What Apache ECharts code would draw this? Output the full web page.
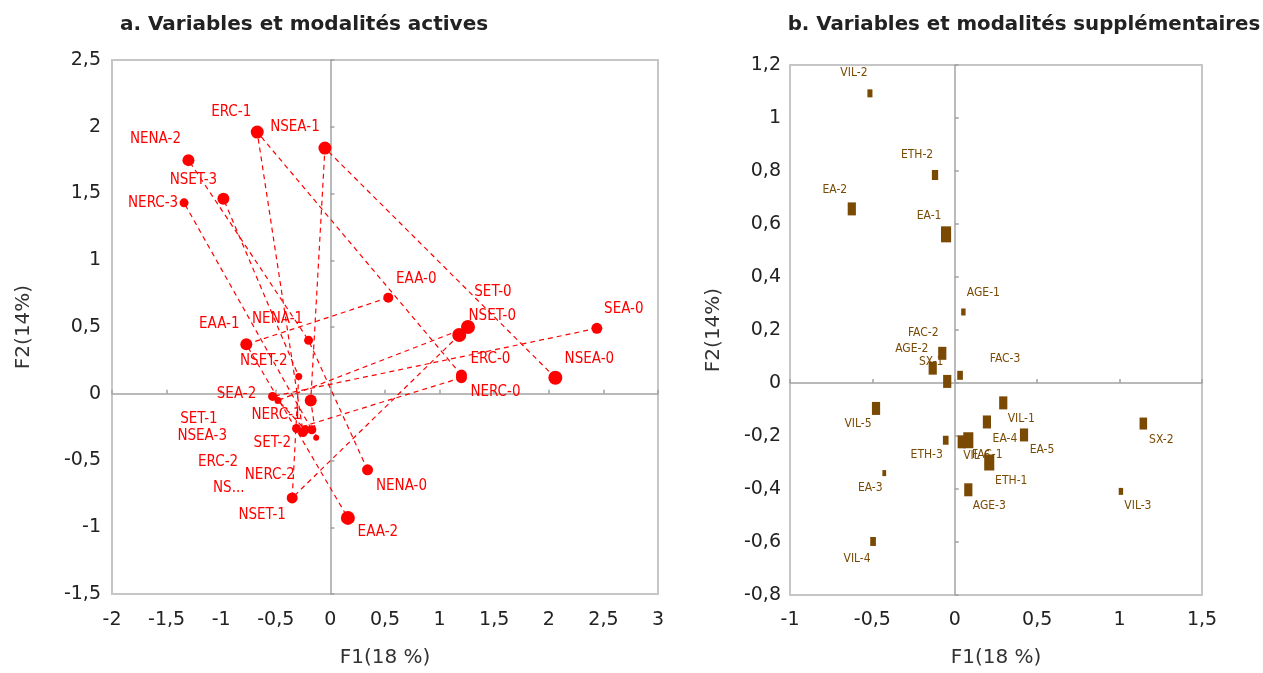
<!DOCTYPE html>
<html>
<head>
<meta charset="utf-8">
<script src="https://cdn.jsdelivr.net/npm/echarts@6/dist/echarts.min.js"></script>
<style>
  html, body { margin: 0; background: #fff; }
  #chart { width: 1263px; height: 673px; }
</style>
</head>
<body>
<div id="chart"></div>
<script>
// a. modalités actives (F1, F2, poids relatif)
const namesA = ['ERC-0', 'ERC-1', 'ERC-2', 'NSEA-0', 'NSEA-1', 'NSEA-2', 'NSEA-3', 'NENA-0', 'NENA-1', 'NENA-2',
  'NSET-0', 'NSET-1', 'NSET-2', 'NSET-3', 'NERC-0', 'NERC-1', 'NERC-2', 'NERC-3', 'EAA-0', 'EAA-1', 'EAA-2',
  'SET-0', 'SET-1', 'SET-2', 'SEA-0', 'SEA-2']
const f1A = [1.20, -0.67, -0.25, 2.06, -0.05, -0.18, -0.13, 0.34, -0.20, -1.30,
  1.18, -0.35, -0.29, -0.98, 1.20, -0.31, -0.17, -1.34, 0.53, -0.77, 0.16,
  1.26, -0.48, -0.23, 2.44, -0.53]
const f2A = [0.14, 1.96, -0.29, 0.12, 1.84, -0.05, -0.33, -0.57, 0.40, 1.75,
  0.44, -0.78, 0.13, 1.46, 0.12, -0.26, -0.27, 1.43, 0.72, 0.37, -0.93,
  0.50, -0.05, -0.27, 0.49, -0.02]
const poidsA = [1.1, 1.3, 0.9, 1.4, 1.3, 1.2, 0.6, 1.1, 0.9, 1.2,
  1.4, 1.1, 0.7, 1.2, 1.1, 0.9, 0.9, 0.9, 1.0, 1.2, 1.4,
  1.4, 0.7, 0.9, 1.1, 0.9]

// b. modalités supplémentaires
const namesB = ['VIL-2', 'ETH-2', 'EA-2', 'EA-1', 'AGE-1', 'FAC-2', 'AGE-2', 'SX-1', 'FAC-3', 'VIL-5', 'VIL-1',
  'EA-4', 'EA-5', 'ETH-3', 'VIL-6', 'FAC-1', 'ETH-1', 'AGE-3', 'EA-3', 'SX-2', 'VIL-3', 'VIL-4']
const f1B = [-0.515, -0.12, -0.625, -0.053, 0.052, -0.076, -0.134, -0.046, 0.032, -0.478, 0.294,
  0.195, 0.42, -0.055, 0.042, 0.082, 0.209, 0.082, -0.428, 1.144, 1.008, -0.496]
const f2B = [1.093, 0.785, 0.657, 0.561, 0.268, 0.112, 0.056, 0.006, 0.029, -0.096, -0.075,
  -0.147, -0.196, -0.216, -0.222, -0.216, -0.30, -0.403, -0.34, -0.153, -0.409, -0.598]
const poidsB = [0.8, 1.0, 1.3, 1.6, 0.7, 1.3, 1.3, 1.3, 0.9, 1.3, 1.3,
  1.3, 1.3, 0.9, 1.3, 1.6, 1.6, 1.3, 0.6, 1.2, 0.7, 0.9]

// placement des étiquettes (décalage en px depuis le centre du point)
const offsetsA = {
  'ERC-0': [29, -16], 'ERC-1': [-26, -20], 'ERC-2': [-85, 30], 'NSEA-0': [34, -19], 'NSEA-1': [-30, -21],
  'NSEA-2': [-82, 88], 'NSEA-3': [-114, -2], 'NENA-0': [34, 16], 'NENA-1': [-31, -21], 'NENA-2': [-33, -21],
  'NSET-0': [33, -19], 'NSET-1': [-30, 17], 'NSET-2': [-35, -15], 'NSET-3': [-30, -19], 'NERC-0': [34, 14],
  'NERC-1': [-20, -13], 'NERC-2': [-42, 45], 'NERC-3': [-31, 0], 'EAA-0': [28, -19], 'EAA-1': [-27, -20],
  'EAA-2': [30, 14], 'SET-0': [25, -35], 'SET-1': [-79, 19], 'SET-2': [-33, 13], 'SEA-0': [27, -19],
  'SEA-2': [-36, -2]
}
const offsetsB = {
  'VIL-2': [-16, -20], 'ETH-2': [-18, -20], 'EA-2': [-17, -19], 'EA-1': [-17, -18], 'AGE-1': [20, -19],
  'FAC-2': [-19, -20], 'AGE-2': [-21, -19], 'SX-1': [-16, -20], 'FAC-3': [45, -16], 'VIL-5': [-18, 15],
  'VIL-1': [18, 16], 'EA-4': [18, 17], 'EA-5': [18, 15], 'ETH-3': [-19, 15], 'VIL-6': [15, 14],
  'FAC-1': [19, 15], 'ETH-1': [22, 18], 'AGE-3': [21, 16], 'EA-3': [-14, 15], 'SX-2': [18, 16],
  'VIL-3': [17, 14], 'VIL-4': [-16, 17]
}
const labels = {
  'NSEA-2': 'NS...'
}

const RED = '#ff0000'
const BROWN = '#7a4a04'
const narrow = '"DejaVu Sans Condensed", "Liberation Sans Narrow", sans-serif'
const comma = (v) => String(+v.toFixed(2)).replace('.', ',')

// relie les modalités d'une même variable dans l'ordre 0,1,2,3
const groups = {}
namesA.forEach((n, i) => {
  const v = n.split('-')[0]
  ;(groups[v] = groups[v] || []).push([+n.split('-')[1], f1A[i], f2A[i]])
})
const lineSeries = Object.keys(groups).map((v) => ({
  type: 'line',
  xAxisIndex: 0,
  yAxisIndex: 0,
  symbol: 'none',
  silent: true,
  z: 2,
  lineStyle: { color: RED, width: 1.2, type: [5, 4] },
  data: groups[v].sort((a, b) => a[0] - b[0]).map((p) => [p[1], p[2]]),
}))

const axisLabel = { fontFamily: 'DejaVu Sans', fontSize: 19, color: '#222', formatter: comma }
const nameStyle = { fontFamily: 'DejaVu Sans', fontSize: 20, color: '#333' }

const valueAxis = (extra) => Object.assign({
  type: 'value',
  axisLine: { show: false, onZero: false },
  axisTick: { show: false },
  splitLine: { show: false },
}, extra)
const zeroAxis = (extra) => Object.assign({
  type: 'value',
  axisTick: { show: true, length: 4, lineStyle: { color: '#a3a3a3', width: 1.5 } },
  axisLabel: { show: false },
  splitLine: { show: false },
}, extra)
const zeroLine = (idx) => ({ show: true, onZero: true, onZeroAxisIndex: idx, lineStyle: { color: '#a3a3a3', width: 1.5 } })

const chart = echarts.init(document.getElementById('chart'))
chart.setOption({
  animation: false,
  backgroundColor: '#fff',
  title: [
    { text: 'a. Variables et modalités actives', left: 299, top: 10, textAlign: 'center',
      textStyle: { fontFamily: 'DejaVu Sans', fontWeight: 'bold', fontSize: 20, color: '#222' } },
    { text: 'b. Variables et modalités supplémentaires', left: 1019, top: 10, textAlign: 'center',
      textStyle: { fontFamily: 'DejaVu Sans', fontWeight: 'bold', fontSize: 19.8, color: '#222' } },
  ],
  grid: [
    { left: 112, top: 60, width: 546, height: 537, show: true, borderColor: '#c6c6c6', borderWidth: 2 },
    { left: 790, top: 65, width: 412, height: 533, show: true, borderColor: '#c6c6c6', borderWidth: 2 },
  ],
  xAxis: [
    valueAxis({ gridIndex: 0, min: -2, max: 3, interval: 0.5, position: 'bottom',
      axisLabel: Object.assign({ margin: 17 }, axisLabel),
      name: 'F1(18 %)', nameLocation: 'middle', nameGap: 54, nameTextStyle: nameStyle }),
    zeroAxis({ gridIndex: 0, min: -2, max: 3, interval: 0.5, position: 'top', axisLine: zeroLine(0) }),
    valueAxis({ gridIndex: 1, min: -1, max: 1.5, interval: 0.5, position: 'bottom',
      axisLabel: Object.assign({ margin: 16 }, axisLabel),
      name: 'F1(18 %)', nameLocation: 'middle', nameGap: 53, nameTextStyle: nameStyle }),
    zeroAxis({ gridIndex: 1, min: -1, max: 1.5, interval: 0.5, position: 'top', axisLine: zeroLine(2) }),
  ],
  yAxis: [
    valueAxis({ gridIndex: 0, min: -1.5, max: 2.5, interval: 0.5, position: 'left',
      axisLabel: Object.assign({ margin: 11 }, axisLabel),
      name: 'F2(14%)', nameLocation: 'middle', nameGap: 78, nameRotate: 90, nameTextStyle: nameStyle }),
    zeroAxis({ gridIndex: 0, min: -1.5, max: 2.5, interval: 0.5, position: 'right', axisLine: zeroLine(0) }),
    valueAxis({ gridIndex: 1, min: -0.8, max: 1.2, interval: 0.2, position: 'left',
      axisLabel: Object.assign({ margin: 9 }, axisLabel),
      name: 'F2(14%)', nameLocation: 'middle', nameGap: 66, nameRotate: 90, nameTextStyle: nameStyle }),
    zeroAxis({ gridIndex: 1, min: -0.8, max: 1.2, interval: 0.2, position: 'right', axisLine: zeroLine(2) }),
  ],
  series: [
    ...lineSeries,
    {
      type: 'scatter',
      xAxisIndex: 0,
      yAxisIndex: 0,
      z: 3,
      itemStyle: { color: RED, opacity: 1 },
      label: { show: true, position: 'inside', color: RED, fontFamily: narrow, fontSize: 15,
        formatter: (p) => labels[p.name] || p.name },
      data: namesA.map((n, i) => ({
        name: n,
        value: [f1A[i], f2A[i]],
        symbolSize: poidsA[i] * 10,
        label: { offset: offsetsA[n] },
      })),
    },
    {
      type: 'scatter',
      xAxisIndex: 2,
      yAxisIndex: 2,
      z: 3,
      symbol: 'rect',
      itemStyle: { color: BROWN, opacity: 1 },
      label: { show: true, position: 'inside', color: BROWN, fontFamily: narrow, fontSize: 12,
        formatter: (p) => p.name },
      data: namesB.map((n, i) => ({
        name: n,
        value: [f1B[i], f2B[i]],
        symbolSize: [poidsB[i] * 6.3, poidsB[i] * 10],
        label: { offset: offsetsB[n] },
      })),
    },
  ],
})
</script>
</body>
</html>
